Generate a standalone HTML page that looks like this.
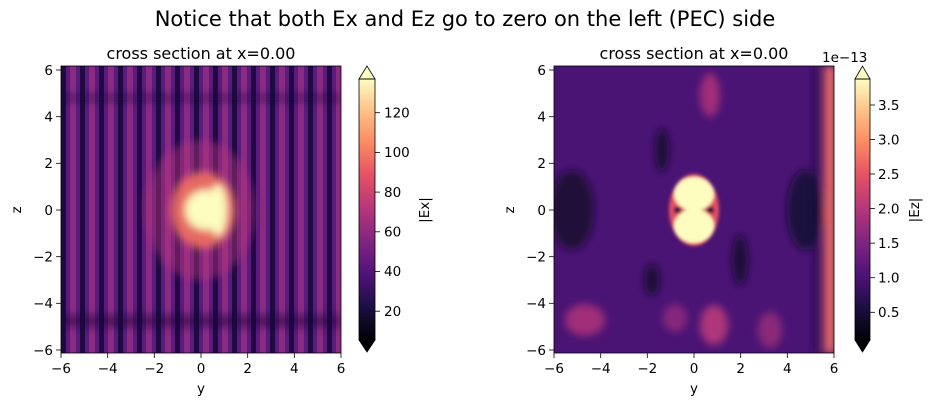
<!DOCTYPE html>
<html><head><style>body{margin:0;background:#fff}svg{display:block;font-family:"DejaVu Sans","Liberation Sans",sans-serif}</style></head><body>
<svg width="930" height="406" xmlns="http://www.w3.org/2000/svg">
<defs>
<linearGradient id="magma" x1="0" y1="1" x2="0" y2="0">
<stop offset="0" stop-color="#000004"/><stop offset="0.13" stop-color="#1c1044"/><stop offset="0.25" stop-color="#4f127b"/><stop offset="0.38" stop-color="#812581"/><stop offset="0.5" stop-color="#b5367a"/><stop offset="0.63" stop-color="#e55064"/><stop offset="0.75" stop-color="#fb8761"/><stop offset="0.88" stop-color="#fec287"/><stop offset="1" stop-color="#fcfdbf"/>
</linearGradient>
<pattern id="stripes" x="61" y="0" width="19" height="10" patternUnits="userSpaceOnUse">
<rect width="19" height="10" fill="#5a1a7e"/><rect x="0" width="5" height="10" fill="#1e0c40"/><rect x="9" width="6" height="10" fill="#8a2a80"/>
</pattern>
<filter id="b4" x="-20%" y="-20%" width="140%" height="140%"><feGaussianBlur stdDeviation="4"/></filter>
<filter id="b2" x="-20%" y="-20%" width="140%" height="140%"><feGaussianBlur stdDeviation="1.5"/></filter>
<clipPath id="c1"><rect x="61" y="66" width="280" height="287"/></clipPath>
<clipPath id="c2"><rect x="554" y="66" width="280" height="287"/></clipPath>
</defs>
<text x="465" y="26" font-size="21" text-anchor="middle">Notice that both Ex and Ez go to zero on the left (PEC) side</text>
<!-- Left plot -->
<text x="201" y="59" font-size="16" text-anchor="middle">cross section at x=0.00</text>
<g clip-path="url(#c1)">
<rect x="61" y="66" width="280" height="287" fill="url(#stripes)"/>
<g filter="url(#b4)">
<ellipse cx="200" cy="210" rx="55" ry="70" fill="#b5367a" opacity="0.45"/>
<ellipse cx="203" cy="210" rx="32" ry="38" fill="#f07060" opacity="0.9"/>
<ellipse cx="205" cy="210" rx="20" ry="20" fill="#fcfdbf"/>
<ellipse cx="218" cy="210" rx="9" ry="26" fill="#fcfdbf"/>
<rect x="61" y="95" width="280" height="6" fill="#1a0a3a" opacity="0.5"/>
<rect x="61" y="315" width="280" height="12" fill="#1a0a3a" opacity="0.5"/>
</g>
</g>
<rect x="61" y="66" width="280" height="287" fill="none" stroke="#000" stroke-width="0.8"/>
<g font-size="13.5" text-anchor="middle">
<g stroke="#000" stroke-width="0.8">
<line x1="61" y1="353" x2="61" y2="358"/><line x1="107.7" y1="353" x2="107.7" y2="358"/><line x1="154.3" y1="353" x2="154.3" y2="358"/><line x1="201" y1="353" x2="201" y2="358"/><line x1="247.7" y1="353" x2="247.7" y2="358"/><line x1="294.3" y1="353" x2="294.3" y2="358"/><line x1="341" y1="353" x2="341" y2="358"/>
<line x1="56" y1="350" x2="61" y2="350"/><line x1="56" y1="303.3" x2="61" y2="303.3"/><line x1="56" y1="256.7" x2="61" y2="256.7"/><line x1="56" y1="210" x2="61" y2="210"/><line x1="56" y1="163.3" x2="61" y2="163.3"/><line x1="56" y1="116.7" x2="61" y2="116.7"/><line x1="56" y1="70" x2="61" y2="70"/>
</g>
<text x="61" y="373">−6</text><text x="107.7" y="373">−4</text><text x="154.3" y="373">−2</text><text x="201" y="373">0</text><text x="247.7" y="373">2</text><text x="294.3" y="373">4</text><text x="341" y="373">6</text>
<text x="201" y="393">y</text>
</g>
<g font-size="13.5" text-anchor="end">
<text x="53" y="355">−6</text><text x="53" y="308">−4</text><text x="53" y="261.5">−2</text><text x="53" y="215">0</text><text x="53" y="168">2</text><text x="53" y="121.5">4</text><text x="53" y="75">6</text>
</g>
<text transform="translate(21,210) rotate(-90)" font-size="13.5" text-anchor="middle">z</text>
<!-- colorbar left -->
<rect x="359" y="79" width="16" height="261" fill="url(#magma)"/>
<polygon points="359,79 367,66 375,79" fill="#fcfdbf" stroke="#000" stroke-width="0.8"/>
<polygon points="359,340 367,352 375,340" fill="#000004" stroke="#000" stroke-width="0.8"/>
<rect x="359" y="79" width="16" height="261" fill="none" stroke="#000" stroke-width="0.8"/>
<g stroke="#000" stroke-width="0.8"><line x1="375" y1="112.7" x2="380" y2="112.7"/><line x1="375" y1="152.4" x2="380" y2="152.4"/><line x1="375" y1="192.1" x2="380" y2="192.1"/><line x1="375" y1="231.8" x2="380" y2="231.8"/><line x1="375" y1="271.5" x2="380" y2="271.5"/><line x1="375" y1="311.2" x2="380" y2="311.2"/></g>
<g font-size="13.5"><text x="384" y="117.5">120</text><text x="384" y="157">100</text><text x="384" y="197">80</text><text x="384" y="236.5">60</text><text x="384" y="276">40</text><text x="384" y="316">20</text></g>
<text transform="translate(429,210) rotate(-90)" font-size="13.5" text-anchor="middle">|Ex|</text>
<!-- Right plot -->
<text x="694" y="59" font-size="16" text-anchor="middle">cross section at x=0.00</text>
<g clip-path="url(#c2)">
<rect x="554" y="66" width="280" height="287" fill="#4a1474"/>
<g filter="url(#b4)">
<ellipse cx="572" cy="210" rx="22" ry="40" fill="#140a30" opacity="0.85"/>
<ellipse cx="805" cy="210" rx="18" ry="40" fill="#140a30" opacity="0.8"/>
<ellipse cx="662" cy="150" rx="7" ry="22" fill="#1a0a38"/>
<ellipse cx="652" cy="280" rx="8" ry="16" fill="#1a0a38"/>
<ellipse cx="740" cy="260" rx="8" ry="25" fill="#1a0a38"/>
<ellipse cx="585" cy="320" rx="20" ry="16" fill="#b5367a" opacity="0.8"/>
<ellipse cx="714" cy="325" rx="14" ry="20" fill="#c7407a" opacity="0.8"/>
<ellipse cx="675" cy="318" rx="12" ry="14" fill="#a0307e" opacity="0.7"/>
<ellipse cx="710" cy="95" rx="10" ry="22" fill="#b5367a" opacity="0.8"/>
<ellipse cx="770" cy="330" rx="12" ry="18" fill="#b5367a" opacity="0.6"/>
<rect x="825" y="66" width="10" height="287" fill="#f07060"/>
<rect x="814" y="66" width="5" height="287" fill="#1a0a38" opacity="0.8"/>
</g>
<g filter="url(#b2)">
<ellipse cx="694" cy="210" rx="25" ry="36" fill="#e55064"/>
<ellipse cx="694" cy="194" rx="20" ry="17" fill="#fcfdbf"/>
<ellipse cx="694" cy="226" rx="20" ry="17" fill="#fcfdbf"/>
<rect x="674" y="207" width="7" height="6" fill="#2a0a40"/><rect x="707" y="207" width="7" height="6" fill="#2a0a40"/>
</g>
</g>
<rect x="554" y="66" width="280" height="287" fill="none" stroke="#000" stroke-width="0.8"/>
<g font-size="13.5" text-anchor="middle">
<g stroke="#000" stroke-width="0.8">
<line x1="554" y1="353" x2="554" y2="358"/><line x1="600.7" y1="353" x2="600.7" y2="358"/><line x1="647.3" y1="353" x2="647.3" y2="358"/><line x1="694" y1="353" x2="694" y2="358"/><line x1="740.7" y1="353" x2="740.7" y2="358"/><line x1="787.3" y1="353" x2="787.3" y2="358"/><line x1="834" y1="353" x2="834" y2="358"/>
<line x1="549" y1="350" x2="554" y2="350"/><line x1="549" y1="303.3" x2="554" y2="303.3"/><line x1="549" y1="256.7" x2="554" y2="256.7"/><line x1="549" y1="210" x2="554" y2="210"/><line x1="549" y1="163.3" x2="554" y2="163.3"/><line x1="549" y1="116.7" x2="554" y2="116.7"/><line x1="549" y1="70" x2="554" y2="70"/>
</g>
<text x="554" y="373">−6</text><text x="600.7" y="373">−4</text><text x="647.3" y="373">−2</text><text x="694" y="373">0</text><text x="740.7" y="373">2</text><text x="787.3" y="373">4</text><text x="834" y="373">6</text>
<text x="694" y="393">y</text>
</g>
<g font-size="13.5" text-anchor="end">
<text x="546" y="355">−6</text><text x="546" y="308">−4</text><text x="546" y="261.5">−2</text><text x="546" y="215">0</text><text x="546" y="168">2</text><text x="546" y="121.5">4</text><text x="546" y="75">6</text>
</g>
<text transform="translate(514,210) rotate(-90)" font-size="13.5" text-anchor="middle">z</text>
<!-- colorbar right -->
<rect x="855" y="79" width="15" height="261" fill="url(#magma)"/>
<polygon points="855,79 862.5,66 870,79" fill="#fcfdbf" stroke="#000" stroke-width="0.8"/>
<polygon points="855,340 862.5,352 870,340" fill="#000004" stroke="#000" stroke-width="0.8"/>
<rect x="855" y="79" width="15" height="261" fill="none" stroke="#000" stroke-width="0.8"/>
<g stroke="#000" stroke-width="0.8"><line x1="870" y1="105" x2="875" y2="105"/><line x1="870" y1="139.5" x2="875" y2="139.5"/><line x1="870" y1="174" x2="875" y2="174"/><line x1="870" y1="208.6" x2="875" y2="208.6"/><line x1="870" y1="243.1" x2="875" y2="243.1"/><line x1="870" y1="277.7" x2="875" y2="277.7"/><line x1="870" y1="312.3" x2="875" y2="312.3"/></g>
<g font-size="13.5"><text x="878" y="110">3.5</text><text x="878" y="144.5">3.0</text><text x="878" y="179">2.5</text><text x="878" y="213.5">2.0</text><text x="878" y="248">1.5</text><text x="878" y="282.5">1.0</text><text x="878" y="317">0.5</text></g>
<text x="822" y="62" font-size="13.5">1e−13</text>
<text transform="translate(919,210) rotate(-90)" font-size="13.5" text-anchor="middle">|Ez|</text>
</svg>
</body></html>
